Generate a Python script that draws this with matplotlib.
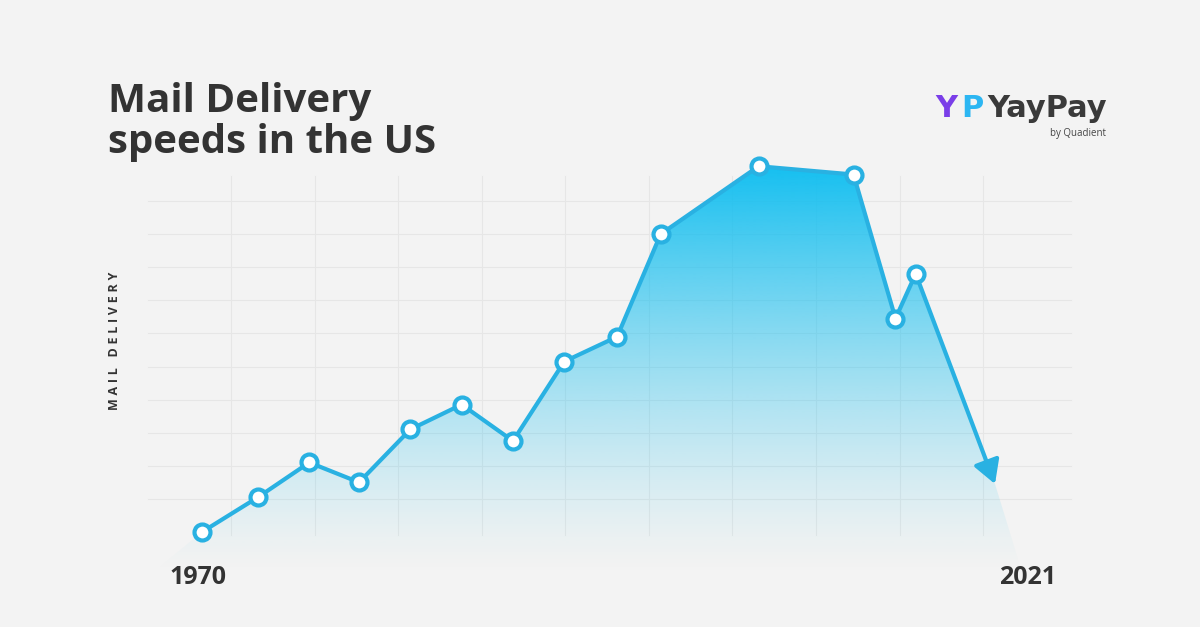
import numpy as np
import matplotlib.pyplot as plt
from matplotlib.patches import Polygon
from matplotlib.colors import to_rgb

# values (year, relative delivery speed in grid units)
years = [1970, 1973.6, 1976.9, 1980.1, 1983.4, 1986.7, 1990.0, 1993.3,
         1996.7, 1999.5, 2005.8, 2011.9, 2014.6, 2015.9]
speed = [0.0, 1.05, 2.1, 1.5, 3.1, 3.85, 2.75, 5.15,
         5.9, 9.0, 11.05, 10.8, 6.45, 7.8]
arrow_year = 2021
arrow_speed = 1.45
start_label = "1970"
end_label = "2021"

BG = '#f3f3f3'
BLUE = '#29b1e2'
FILL = '#14bff0'
DARK = '#333333'
W, H = 1200, 627


def fx(px):
    return px / W


def fy(py):
    return 1 - py / H


fig = plt.figure(figsize=(12, 6.27), dpi=100, facecolor=BG)
ax = fig.add_axes([0, 0, 1, 1])
ax.axis('off')

# light grid
for v in range(1, 11):
    ax.plot([1966.5, 2025.9], [v, v], color='#e6e6e6', lw=0.8, zorder=0)
for x in 1971.86 + 5.376 * np.arange(10):
    ax.plot([x, x], [-0.1, 10.75], color='#e6e6e6', lw=0.8, zorder=0)

# gradient area under the line
poly_x = [1966.6] + years + [arrow_year, 2022.8]
poly_y = [-1.3] + speed + [arrow_speed, -1.3]
patch = Polygon(np.column_stack([poly_x, poly_y]), closed=True,
                facecolor='none', edgecolor='none')
ax.add_patch(patch)
grad = np.zeros((256, 1, 4))
grad[..., :3] = to_rgb(FILL)
grad[..., 3] = (np.linspace(1, 0, 256) ** 1.35)[:, None]
im = ax.imshow(grad, extent=[1966, 2024, -1.3, 11.1], aspect='auto',
               origin='upper', zorder=1, interpolation='bilinear')
im.set_clip_path(patch)

# line, arrow and markers
ax.plot(years, speed, color=BLUE, lw=3, solid_joinstyle='round', zorder=3)
ax.annotate('', xy=(arrow_year, arrow_speed), xytext=(years[-1], speed[-1]),
            arrowprops=dict(arrowstyle='-|>,head_length=0.7,head_width=0.4',
                            mutation_scale=20, lw=3, color=BLUE,
                            shrinkA=0, shrinkB=0),
            zorder=3)
ax.plot(years, speed, 'o', ms=11.5, mfc='white', mec=BLUE, mew=3, zorder=4)

px_per_year = 15.549
ax.set_xlim(1970 - 202 / px_per_year, 1970 + 998 / px_per_year)
ax.set_ylim(-95 / 33.1, 532 / 33.1)

# titles and labels
fam = ['Open Sans', 'DejaVu Sans']
fig.text(fx(108), fy(112), 'Mail Delivery', fontsize=29, fontweight='bold',
         color=DARK, va='baseline', family=fam)
fig.text(fx(108), fy(153), 'speeds in the US', fontsize=29, fontweight='bold',
         color=DARK, va='baseline', family=fam)
fig.text(fx(114), fy(341), '\u2009\u200a'.join('MAIL DELIVERY'), fontsize=9,
         fontweight='bold', color=DARK, rotation=90, ha='center',
         va='center', family=fam)
fig.text(fx(198), fy(584), start_label, fontsize=18, fontweight='bold',
         color=DARK, ha='center', va='baseline', family=fam)
fig.text(fx(1028), fy(584), end_label, fontsize=18, fontweight='bold',
         color=DARK, ha='center', va='baseline', family=fam)

# logo
logo = ['DejaVu Sans']
fig.text(fx(935), fy(117), 'Y', fontsize=22, fontweight='bold',
         color='#7a3ee8', va='baseline', family=logo)
fig.text(fx(961), fy(117), 'P', fontsize=22, fontweight='bold',
         color='#2cb6f2', va='baseline', family=logo)
fig.text(fx(1107), fy(117), 'YayPay', fontsize=22, fontweight='bold',
         color='#3a3a3a', ha='right', va='baseline', family=logo)
fig.text(fx(1106), fy(136), 'by Quadient', fontsize=7, color='#444444',
         ha='right', va='baseline', family=fam)

fig.savefig('out.png', dpi=100, facecolor=BG)
